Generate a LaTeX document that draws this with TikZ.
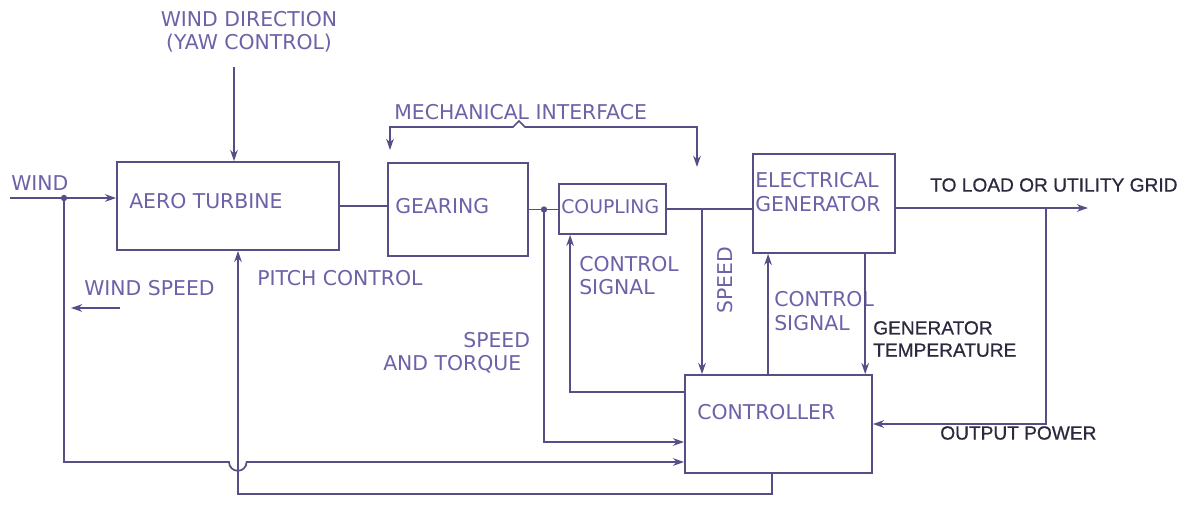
\documentclass[tikz,border=0pt]{standalone}
\usepackage{fontspec}
\setsansfont{DejaVu Sans}
\newfontfamily\darkfont[FakeBold=0.6]{Liberation Sans}
\usepackage{tikz}
\usetikzlibrary{arrows.meta,positioning,calc}
\definecolor{linecol}{RGB}{88,78,134}
\definecolor{textcol}{RGB}{108,98,168}
\definecolor{darkcol}{RGB}{45,40,62}

\begin{document}
\begin{tikzpicture}[x=0.025cm, y=-0.025cm,
    box/.style={rectangle, draw=linecol, line width=1.2pt, inner sep=0pt},
    txt/.style={font=\sffamily\fontsize{14.5}{16.5}\selectfont, text=textcol, align=left, inner sep=0pt},
    dtxt/.style={font=\darkfont\fontsize{13.6}{15.8}\selectfont, text=darkcol, align=left, inner sep=0pt},
    wire/.style={draw=linecol, line width=1.2pt},
    arr/.style={-{Stealth[length=2.8mm, width=1.9mm]}, draw=linecol, line width=1.2pt},
    arrs/.style={{Stealth[length=2.8mm, width=1.9mm]}-{Stealth[length=2.8mm, width=1.9mm]}, draw=linecol, line width=1.2pt},
    dot/.style={circle, fill=linecol, inner sep=0pt, minimum size=4.5pt}
]
\fill[white] (0,0) rectangle (1181,508);
\useasboundingbox (0,0) rectangle (1181,508);

\node[box, minimum width=5.55cm, minimum height=2.2cm] (aero) at (228,206) {};
\node[box, minimum width=3.5cm, minimum height=2.325cm] (gear) at (458,209.5) {};
\node[box, minimum width=2.675cm, minimum height=1.25cm] (coup) at (612.5,209) {};
\node[box, minimum width=3.55cm, minimum height=2.475cm] (gen) at (824,203.5) {};
\node[box, minimum width=4.675cm, minimum height=2.45cm] (ctrl) at (778.5,424) {};

\node[txt, anchor=west] (aerotxt) at (129,201) {AERO TURBINE};
\node[txt, anchor=west] (geartxt) at (395,206) {GEARING};
\node[txt, anchor=west, font=\sffamily\fontsize{13.4}{15}\selectfont] (couptxt) at (561,207) {COUPLING};
\node[txt, anchor=west] (gentxt) at (755,192) {ELECTRICAL\\GENERATOR};
\node[txt, anchor=west] (ctrltxt) at (697,412) {CONTROLLER};

\node[txt, anchor=west] (windtxt) at (11,183) {WIND};
\node[txt, align=center] (yawtxt) at (249,32) {WIND DIRECTION\\(YAW CONTROL)};
\node[txt, anchor=west] (mechtxt) at (394,112) {MECHANICAL INTERFACE};
\node[txt, anchor=west] (pitchtxt) at (257,278) {PITCH CONTROL};
\node[txt, anchor=west] (wstxt) at (84,288) {WIND SPEED};
\node[txt, anchor=west] (sttxt) at (383,353) {\hspace*{2cm}SPEED\\AND TORQUE};
\node[txt, anchor=west] (csctxt) at (579,275.5) {CONTROL\\SIGNAL};
\node[txt, anchor=west] (csgtxt) at (774,311) {CONTROL\\SIGNAL};
\node[txt, rotate=90] (spdtxt) at (725,280) {SPEED};
\node[dtxt, anchor=west] (temptxt) at (873,339) {GENERATOR\\TEMPERATURE};
\node[dtxt, anchor=west] (gridtxt) at (930,185) {TO LOAD OR UTILITY GRID};
\node[dtxt, anchor=west] (powtxt) at (940,433) {OUTPUT POWER};

\coordinate (windin) at (10,198);
\node[dot] (wdot) at (64,198) {};
\node[dot] (stdot) at (544,209.5) {};
\coordinate (yaw) at (234,67);
\coordinate (mil) at (390,150);
\coordinate (mir) at (697,167);
\coordinate (spdtap) at (702,209);
\coordinate (grid) at (1088,208);
\coordinate (optap) at (1046,208);
\coordinate (wsa) at (120,308);
\coordinate (wsb) at (71,308);

\draw[wire] (windin) -- (wdot.center);
\draw[arr] (wdot.center) -- (wdot.center -| aero.west);
\draw[arr] (yaw) -- (yaw |- aero.north);
\draw[arrs] (mil) |- (513,127) -- (519,121) -- (525,127) -| (mir);
\draw[wire] (aero.east) -- (aero.east -| gear.west);
\draw[wire] (gear.east) -- (gear.east -| coup.west);
\draw[wire] (coup.east) -- (coup.east -| gen.west);
\draw[arr] (grid -| gen.east) -- (grid);
\draw[arr] (optap) |- (ctrl.east);
\draw[arr] (spdtap) -- (spdtap |- ctrl.north);
\draw[arr] (stdot.center) |- ([yshift=-0.45cm]ctrl.west);
\draw[arr] ([yshift=0.8cm]ctrl.west) -| ([xshift=-1.06cm]coup.south);
\draw[arr] ([xshift=-0.26cm]ctrl.north) -- ([xshift=-0.26cm]ctrl.north |- gen.south);
\draw[arr] ([xshift=1.03cm]gen.south) -- ([xshift=1.03cm]gen.south |- ctrl.north);
\draw[arr] ([xshift=-0.16cm]ctrl.south) -- ++(0,20) -| ([xshift=0.25cm]aero.south);
\draw[arr] (wdot.center) -- (64,462) -- (229,462) arc[start angle=180, end angle=360, radius=0.22cm] -- ([yshift=-0.95cm]ctrl.west);
\draw[arr] (wsa) -- (wsb);
\end{tikzpicture}
\end{document}
